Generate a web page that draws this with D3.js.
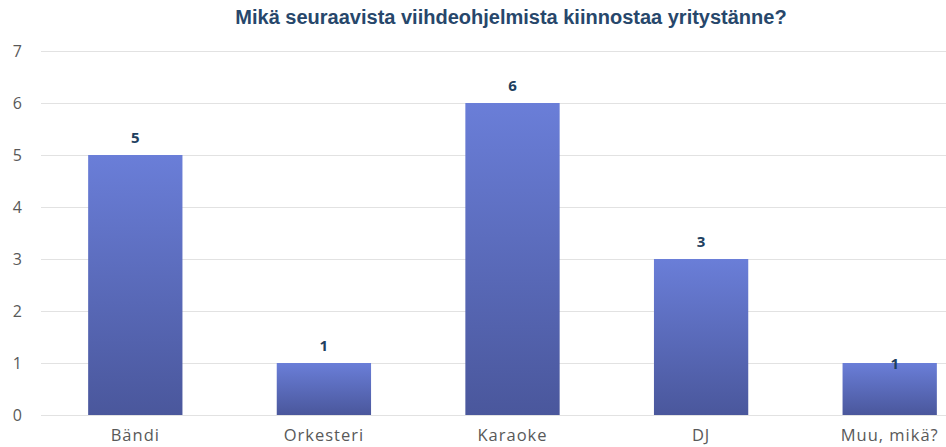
<!DOCTYPE html>
<html>
<head>
<meta charset="utf-8">
<script src="https://cdn.jsdelivr.net/npm/d3@7"></script>
<style>
  html, body { margin: 0; padding: 0; background: #ffffff; }
  svg { display: block; }
</style>
</head>
<body>
<svg id="chart" width="946" height="447"></svg>
<script>
const categories = ["Bändi", "Orkesteri", "Karaoke", "DJ", "Muu, mikä?"];
const values = [5, 1, 6, 3, 1];
const yTicks = [0, 1, 2, 3, 4, 5, 6, 7];
const title = "Mikä seuraavista viihdeohjelmista kiinnostaa yritystänne?";

const svg = d3.select("#chart");
const W = 946, H = 447;

// plot area runs past the right edge of the canvas
const x = d3.scaleBand().domain(categories).range([41, 984]).paddingInner(0.5).paddingOuter(0.25);
const y = d3.scaleLinear().domain([0, 7]).range([415, 51]);

const defs = svg.append("defs");
const grad = defs.append("linearGradient").attr("id", "barGrad")
  .attr("x1", 0).attr("y1", 0).attr("x2", 0).attr("y2", 1);
grad.append("stop").attr("offset", "0%").attr("stop-color", "#6a7ed8");
grad.append("stop").attr("offset", "100%").attr("stop-color", "#4a579c");

// title
svg.append("text")
  .attr("x", 511).attr("y", 24)
  .attr("text-anchor", "middle")
  .attr("font-family", "'Liberation Sans', Arial, sans-serif")
  .attr("font-weight", "bold")
  .attr("font-size", 20)
  .attr("fill", "#27476b")
  .text(title);

// gridlines
svg.append("g").selectAll("line").data(yTicks).join("line")
  .attr("x1", 41).attr("x2", W)
  .attr("y1", d => y(d) + 0.5).attr("y2", d => y(d) + 0.5)
  .attr("stroke", "#e2e2e2").attr("stroke-width", 1);

// y axis labels
const yAxis = d3.axisLeft(y).tickValues(yTicks).tickFormat(d3.format("d")).tickSize(0).tickPadding(0);
const gy = svg.append("g").attr("transform", "translate(22,0)").call(yAxis);
gy.select(".domain").remove();
gy.selectAll("text")
  .attr("text-anchor", "end")
  .attr("font-family", "'Open Sans', sans-serif")
  .attr("font-size", 16)
  .attr("fill", "#595959");

// bars
svg.append("g").selectAll("rect").data(values).join("rect")
  .attr("x", (d, i) => x(categories[i]))
  .attr("y", d => y(d))
  .attr("width", x.bandwidth())
  .attr("height", d => y(0) - y(d))
  .attr("fill", "url(#barGrad)");

// value labels (last one sits on the bar's top edge)
svg.append("g").selectAll("text").data(values).join("text")
  .attr("x", (d, i) => x(categories[i]) + x.bandwidth() / 2 + (i === values.length - 1 ? 5 : 0))
  .attr("y", (d, i) => i === values.length - 1 ? y(d) + 6 : y(d) - 12)
  .attr("text-anchor", "middle")
  .attr("font-family", "'Open Sans', sans-serif")
  .attr("font-weight", "bold")
  .attr("font-size", 15)
  .attr("fill", "#213f60")
  .text(d => d);

// x axis labels
const xAxis = d3.axisBottom(x).tickSize(0).tickPadding(0);
const gx = svg.append("g").attr("transform", "translate(0,441)").call(xAxis);
gx.select(".domain").remove();
gx.selectAll("text")
  .attr("dy", 0)
  .attr("font-family", "'Open Sans', sans-serif")
  .attr("font-size", 16.5)
  .attr("letter-spacing", 1)
  .attr("fill", "#595959");
</script>
</body>
</html>
